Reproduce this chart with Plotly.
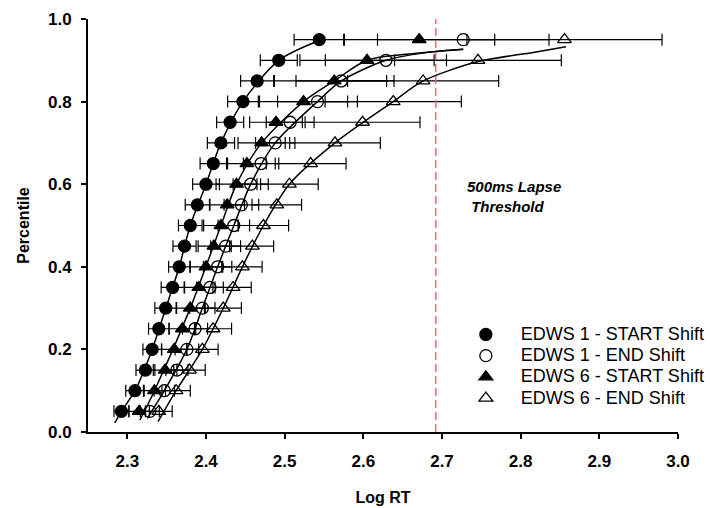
import plotly.graph_objects as go

# ---------------- data ----------------
percentiles = [0.05, 0.10, 0.15, 0.20, 0.25, 0.30, 0.35, 0.40, 0.45, 0.50,
               0.55, 0.60, 0.65, 0.70, 0.75, 0.80, 0.85, 0.90, 0.95]

edws1_start_x = [2.2925, 2.3097, 2.323, 2.3316, 2.340, 2.3488, 2.3576, 2.366, 2.3727, 2.380,
                 2.389, 2.400, 2.4093, 2.419, 2.4307, 2.447, 2.465, 2.4925, 2.544]
edws1_start_err = [0.0095, 0.0117, 0.012, 0.0118, 0.013, 0.0138, 0.0146, 0.0135, 0.0147, 0.015,
                   0.0154, 0.017, 0.0168, 0.0173, 0.0172, 0.0195, 0.021, 0.0235, 0.032]

edws1_end_x = [2.3286, 2.347, 2.363, 2.3757, 2.386, 2.3954, 2.405, 2.4148, 2.425, 2.4354,
               2.445, 2.4568, 2.470, 2.488, 2.507, 2.5417, 2.572, 2.6287, 2.727]
edws1_end_err = [0.012, 0.013, 0.014, 0.015, 0.016, 0.016, 0.017, 0.018, 0.019, 0.020,
                 0.022, 0.0223, 0.0225, 0.025, 0.0304, 0.0507, 0.0576, 0.077, 0.109]

edws6_start_x = [2.315, 2.3345, 2.348, 2.3597, 2.370, 2.380, 2.3908, 2.400, 2.410, 2.419,
                 2.427, 2.4388, 2.452, 2.4707, 2.489, 2.524, 2.563, 2.6047, 2.671]
edws6_start_err = [0.013, 0.014, 0.015, 0.016, 0.017, 0.018, 0.018, 0.020, 0.020, 0.022,
                   0.022, 0.026, 0.0246, 0.030, 0.0335, 0.056, 0.076, 0.0853, 0.096]

edws6_end_x = [2.340, 2.362, 2.379, 2.3954, 2.409, 2.422, 2.4345, 2.4463, 2.459, 2.473,
               2.490, 2.506, 2.533, 2.564, 2.599, 2.638, 2.676, 2.7457, 2.8557]
edws6_end_err = [0.017, 0.018, 0.020, 0.020, 0.0235, 0.023, 0.023, 0.025, 0.027, 0.032,
                 0.0315, 0.0366, 0.045, 0.0576, 0.073, 0.0866, 0.096, 0.106, 0.124]

# fitted curves
fit1s_x = [2.284, 2.2925, 2.3097, 2.3316, 2.349, 2.366, 2.380, 2.400, 2.419, 2.447, 2.4925, 2.544]
fit1s_y = [0.022, 0.05, 0.10, 0.20, 0.30, 0.40, 0.50, 0.60, 0.70, 0.80, 0.90, 0.948]
fit6s_x = [2.316, 2.3345, 2.380, 2.419, 2.4388, 2.4707, 2.524, 2.563, 2.6047, 2.668, 2.727]
fit6s_y = [0.029, 0.10, 0.30, 0.50, 0.60, 0.70, 0.80, 0.85, 0.90, 0.917, 0.927]
fit1e_x = [2.3255, 2.347, 2.3757, 2.3954, 2.4148, 2.4354, 2.4568, 2.488, 2.5417, 2.572, 2.6287, 2.689, 2.727]
fit1e_y = [0.033, 0.10, 0.20, 0.30, 0.40, 0.50, 0.60, 0.70, 0.80, 0.85, 0.90, 0.921, 0.927]
fit6e_x = [2.339, 2.362, 2.3954, 2.422, 2.4463, 2.473, 2.506, 2.564, 2.638, 2.676, 2.7457, 2.816, 2.8575]
fit6e_y = [0.025, 0.10, 0.20, 0.30, 0.40, 0.50, 0.60, 0.70, 0.80, 0.85, 0.897, 0.919, 0.933]

lapse_threshold = 2.692
x_ticks = [2.3, 2.4, 2.5, 2.6, 2.7, 2.8, 2.9, 3.0]
y_ticks = [0.0, 0.2, 0.4, 0.6, 0.8, 1.0]

FONT = "Liberation Sans, Arial, sans-serif"

fig = go.Figure()

for cx, cy in [(fit1s_x, fit1s_y), (fit6s_x, fit6s_y), (fit1e_x, fit1e_y), (fit6e_x, fit6e_y)]:
    fig.add_trace(go.Scatter(x=cx, y=cy, mode="lines",
                             line=dict(color="black", width=1.5, shape="spline", smoothing=0.8),
                             showlegend=False, hoverinfo="skip"))

series = [
    ("EDWS 1 - START Shift", edws1_start_x, edws1_start_err, "circle"),
    ("EDWS 1 - END Shift", edws1_end_x, edws1_end_err, "circle-open"),
    ("EDWS 6 - START Shift", edws6_start_x, edws6_start_err, "triangle-up"),
    ("EDWS 6 - END Shift", edws6_end_x, edws6_end_err, "triangle-up-open"),
]
for name, xs, errs, sym in series:
    fig.add_trace(go.Scatter(
        x=xs, y=percentiles, mode="markers",
        name='<span style="font-size:18px">' + name + '</span>',
        marker=dict(symbol=sym, size=12, color="black", line=dict(color="black", width=1.3)),
        error_x=dict(type="data", array=errs, symmetric=True, color="black",
                     thickness=1.2, width=6),
    ))

fig.add_shape(type="line", xref="x", yref="y", x0=lapse_threshold, x1=lapse_threshold,
              y0=0, y1=1.0, line=dict(color="#f06a6a", width=1.5, dash="8px,4px"))

fig.add_annotation(x=2.729, y=0.571, xref="x", yref="y", xanchor="left", align="left",
                   text="<b><i>500ms Lapse<br> Threshold</i></b>", showarrow=False,
                   font=dict(family=FONT, size=15, color="black"))

fig.update_layout(
    width=710, height=508,
    margin=dict(l=88, r=32, t=19, b=76, autoexpand=False),
    paper_bgcolor="white", plot_bgcolor="white",
    font=dict(family=FONT, color="black"),
    legend=dict(x=0.615, y=0.274, xanchor="left", yanchor="top", itemwidth=60,
                font=dict(family=FONT, size=14, color="black"),
                bgcolor="rgba(0,0,0,0)", tracegroupgap=0),
)
fig.update_xaxes(range=[2.25, 3.0], tickvals=x_ticks, tickformat=".1f",
                 showline=True, linecolor="black", linewidth=2, mirror=False,
                 ticks="outside", ticklen=5, tickwidth=1.5, tickcolor="black",
                 ticklabelstandoff=8, automargin=False,
                 showgrid=False, zeroline=False,
                 tickfont=dict(family=FONT, size=17, color="black", weight="bold"),
                 title=dict(text="Log RT", standoff=21,
                            font=dict(family=FONT, size=16, color="black", weight="bold")))
fig.update_yaxes(range=[0, 1.0], tickvals=y_ticks, tickformat=".1f",
                 showline=True, linecolor="black", linewidth=2,
                 ticks="outside", ticklen=5, tickwidth=1.5, tickcolor="black",
                 ticklabelstandoff=6, automargin=False,
                 showgrid=False, zeroline=False,
                 tickfont=dict(family=FONT, size=17, color="black", weight="bold"),
                 title=dict(text="Percentile", standoff=14,
                            font=dict(family=FONT, size=16, color="black", weight="bold")))

fig.write_html("out.html")
